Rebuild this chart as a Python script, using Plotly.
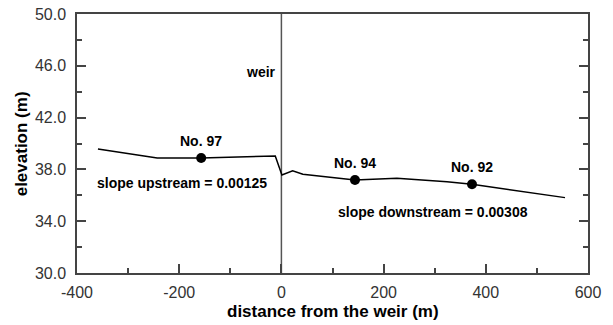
import plotly.graph_objects as go

# profile of the water surface / bed elevation
dist = [-359, -243, -157, -60, -12, 1, 22, 42, 80, 144, 226, 324, 373, 555]
elev = [39.58, 38.88, 38.88, 38.98, 39.03, 37.57, 37.9, 37.62, 37.45, 37.18, 37.31, 37.05, 36.85, 35.82]

# gauging stations
st_name = ["No. 97", "No. 94", "No. 92"]
st_dist = [-157, 144, 373]
st_elev = [38.88, 37.18, 36.85]

# weir line
weir_x = [0, 0]
weir_y = [30, 50]

# slope annotations
slope_text = ["slope upstream = 0.00125", "slope downstream = 0.00308"]
slope_x = [-195, 297]
slope_y = [36.95, 34.71]

ytick_vals = [30, 34, 38, 42, 46, 50]
xtick_vals = [-400, -200, 0, 200, 400, 600]
xtick_text = ["-400", "-200", "0", "200", "400", "600"]

FONT = "Liberation Sans, Arial"

fig = go.Figure()
fig.add_trace(go.Scatter(x=weir_x, y=weir_y, mode="lines",
                         line=dict(color="#555555", width=1.5), hoverinfo="skip"))
fig.add_trace(go.Scatter(x=dist, y=elev, mode="lines",
                         line=dict(color="black", width=1.5)))
fig.add_trace(go.Scatter(x=st_dist, y=st_elev, mode="markers",
                         marker=dict(color="black", size=10)))

for n, xx, yy in zip(st_name, st_dist, st_elev):
    fig.add_annotation(x=xx, y=yy, text="<b>" + n + "</b>", showarrow=False, yshift=17,
                       font=dict(family=FONT, size=14, color="black"))

for t, xx, yy in zip(slope_text, slope_x, slope_y):
    fig.add_annotation(x=xx, y=yy, text="<b>" + t + "</b>", showarrow=False,
                       font=dict(family=FONT, size=14, color="black"))
fig.add_annotation(x=0, y=45.5, text="<b>weir</b>", showarrow=False, xanchor="right", xshift=-3,
                   font=dict(family=FONT, size=14, color="black"))

# axis titles
fig.add_annotation(xref="paper", yref="paper", x=0.5, y=-0.147, yanchor="middle",
                   text="<b>distance from the weir (m)</b>", showarrow=False,
                   font=dict(family=FONT, size=17, color="black"))
fig.add_annotation(xref="paper", yref="paper", x=-0.108, y=0.5, xanchor="center", yanchor="middle",
                   textangle=-90, text="<b>elevation (m)</b>", showarrow=False,
                   font=dict(family=FONT, size=17, color="black"))

axis_common = dict(showgrid=False, zeroline=False, showline=True, linecolor="#444444", linewidth=1.5,
                   ticks="inside", ticklen=9, tickwidth=1.5, tickcolor="#444444", automargin=False,
                   tickfont=dict(family=FONT, size=16, color="#333333"))

fig.update_layout(
    width=613, height=325,
    margin=dict(l=77, r=25, t=14, b=52),
    plot_bgcolor="white", paper_bgcolor="white",
    showlegend=False,
    xaxis=dict(range=[-400, 600], tickvals=xtick_vals, ticktext=xtick_text, mirror=True,
               minor=dict(ticks="inside", ticklen=5, tickwidth=1.5, tickcolor="#444444", dtick=100, tick0=0),
               ticklabelstandoff=4,
               **axis_common),
    yaxis=dict(range=[30, 50], tickvals=ytick_vals, tickformat=".1f", mirror="ticks",
               minor=dict(ticks="inside", ticklen=5, tickwidth=1.5, tickcolor="#444444", dtick=2, tick0=0),
               ticklabelstandoff=6,
               **axis_common),
)

fig.write_html("out.html", config={"displayModeBar": False},
               post_script="document.body.style.margin='0';")
